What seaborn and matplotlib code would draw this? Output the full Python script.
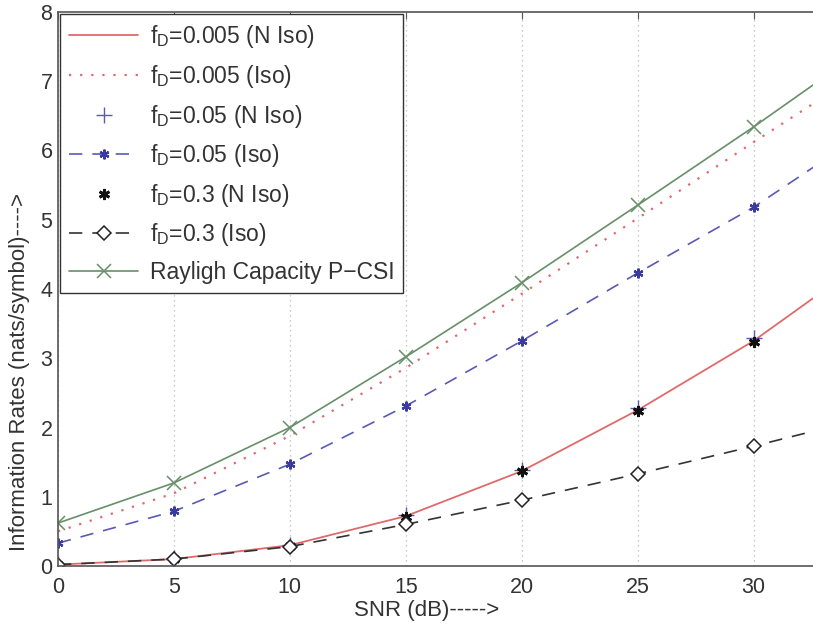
import numpy as np
import pandas as pd
import matplotlib
matplotlib.use("Agg")
import matplotlib.pyplot as plt
import seaborn as sns

snr = [0, 5, 10, 15, 20, 25, 30, 35]
rate_0005_niso = [0.02, 0.10, 0.30, 0.72, 1.37, 2.25, 3.25, 4.45]
rate_0005_iso = [0.50, 1.05, 1.88, 2.86, 3.93, 5.02, 6.12, 7.20]
rate_005_niso = [0.03, 0.11, 0.31, 0.74, 1.39, 2.28, 3.29]
rate_005_iso = [0.33, 0.79, 1.47, 2.31, 3.25, 4.23, 5.18, 6.30]
rate_03_niso = [0.02, 0.10, 0.29, 0.71, 1.37, 2.24, 3.24]
rate_03_iso = [0.02, 0.10, 0.28, 0.60, 0.95, 1.33, 1.73, 2.15]
rayleigh_pcsi = [0.62, 1.20, 2.00, 3.02, 4.09, 5.21, 6.34, 7.52]

labels = [r"f$_{\mathrm{D}}$=0.005 (N Iso)", r"f$_{\mathrm{D}}$=0.005 (Iso)",
          r"f$_{\mathrm{D}}$=0.05 (N Iso)", r"f$_{\mathrm{D}}$=0.05 (Iso)",
          r"f$_{\mathrm{D}}$=0.3 (N Iso)", r"f$_{\mathrm{D}}$=0.3 (Iso)",
          "Rayligh Capacity P\u2212CSI"]

sns.set_style("white")
plt.rcParams['font.family'] = ['Liberation Sans', 'DejaVu Sans']
plt.rcParams['mathtext.fontset'] = 'custom'
plt.rcParams['mathtext.rm'] = 'Liberation Sans'
plt.rcParams['mathtext.it'] = 'Liberation Sans:italic'

fig = plt.figure(figsize=(8.13, 6.28), dpi=100)
ax = fig.add_axes([58/813, 62/628, 1 - 58/813 + 0.001, (566-12)/628])

red = '#e06a6a'
blue = '#5a5ab4'
green = '#678f68'

sns.lineplot(x=snr, y=rate_0005_niso, ax=ax, color=red, lw=1.3, label=labels[0])
sns.lineplot(x=snr, y=rate_0005_iso, ax=ax, color=red, lw=1.6, linestyle=(0, (1, 4)), label=labels[1])
sns.lineplot(x=snr[:7], y=rate_005_niso, ax=ax, color=blue, linestyle='none', marker='+',
             markersize=11, markeredgewidth=1.0, markeredgecolor=blue, label=labels[2])
sns.lineplot(x=snr, y=rate_005_iso, ax=ax, color=blue, lw=1.2, linestyle=(0, (8, 6)), marker=(6, 2, 0),
             markersize=7, markeredgewidth=1.6, markeredgecolor='#3a3aa0', label=labels[3])
sns.lineplot(x=snr[:7], y=rate_03_niso, ax=ax, color='#111111', linestyle='none', marker=(6, 2, 0),
             markersize=8, markeredgewidth=2.0, markeredgecolor='#111111', label=labels[4])
sns.lineplot(x=snr, y=rate_03_iso, ax=ax, color='#333333', lw=1.2, linestyle=(0, (8, 6)), marker='D',
             markersize=7, markerfacecolor='white', markeredgecolor='#222222', markeredgewidth=1.1,
             label=labels[5])
sns.lineplot(x=snr, y=rayleigh_pcsi, ax=ax, color=green, lw=1.2, marker='x', markersize=10,
             markeredgewidth=1.1, markeredgecolor=green, label=labels[6])

ax.set_xlim(0, 32.6)
ax.set_ylim(0, 8)
ax.set_xticks([0, 5, 10, 15, 20, 25, 30])
ax.set_yticks(range(0, 9))
ax.grid(True, axis='x', color='#b8b8b8', linestyle=(0, (1, 3)), lw=0.9)
ax.tick_params(direction='in', length=5, labelsize=15.5, color='#555555', top=True,
               labelcolor='#333333')
ax.tick_params(axis='x', pad=8)
ax.tick_params(axis='y', pad=4)
for s in ['left', 'top', 'bottom']:
    ax.spines[s].set_color('#555555')
    ax.spines[s].set_linewidth(1.2)
ax.spines['right'].set_visible(False)

ax.set_xlabel("SNR (dB)----->", fontsize=16, color='#333333')
ax.xaxis.set_label_coords((426-58)/755, -(600-566)/554)
ax.xaxis.label.set_va('top')
ax.set_ylabel("Information Rates (nats/symbol)---->", fontsize=16, color='#333333')
ax.yaxis.set_label_coords(-28/755, (566-372)/554)

leg = ax.legend(loc='upper left', fontsize=16.5, handlelength=3.0, labelspacing=0.55,
                borderaxespad=0.1, fancybox=False, framealpha=1, edgecolor='#333333',
                borderpad=0.4, handletextpad=0.5)
leg.get_frame().set_linewidth(1.0)
for t in leg.get_texts():
    t.set_color('#333333')

fig.savefig("out.png", dpi=100)
